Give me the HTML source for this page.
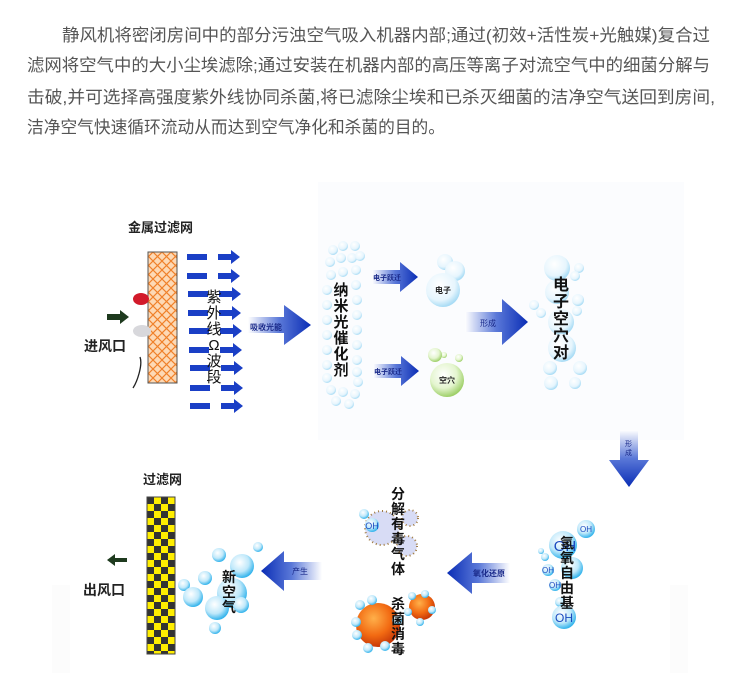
<!DOCTYPE html>
<html><head><meta charset="utf-8"><style>
html,body{margin:0;padding:0;background:#fff;width:750px;height:673px;overflow:hidden}
svg{display:block;font-family:"Liberation Sans","Noto Sans CJK SC",sans-serif}
</style></head><body>
<svg width="750" height="673" viewBox="0 0 750 673" xmlns="http://www.w3.org/2000/svg">
<defs>
<radialGradient id="bb" cx="40%" cy="35%" r="65%"><stop offset="0" stop-color="#ffffff"/><stop offset="0.6" stop-color="#bfe8fa"/><stop offset="1" stop-color="#35b4ec"/></radialGradient>
<radialGradient id="lb" cx="40%" cy="35%" r="65%"><stop offset="0" stop-color="#ffffff"/><stop offset="0.7" stop-color="#e6f5fd"/><stop offset="1" stop-color="#a9dcf5"/></radialGradient>
<radialGradient id="gb" cx="40%" cy="35%" r="65%"><stop offset="0" stop-color="#ffffff"/><stop offset="0.6" stop-color="#e4f5cf"/><stop offset="1" stop-color="#9fd06a"/></radialGradient>
<radialGradient id="ob" cx="40%" cy="35%" r="65%"><stop offset="0" stop-color="#ffb04a"/><stop offset="0.6" stop-color="#f26a12"/><stop offset="1" stop-color="#c83a08"/></radialGradient>
<linearGradient id="ar" x1="0" x2="1"><stop offset="0" stop-color="#ffffff"/><stop offset="0.5" stop-color="#5a78d8"/><stop offset="1" stop-color="#0a2db5"/></linearGradient>
<linearGradient id="al" x1="1" x2="0"><stop offset="0" stop-color="#ffffff"/><stop offset="0.5" stop-color="#5a78d8"/><stop offset="1" stop-color="#0a2db5"/></linearGradient>
<linearGradient id="ad" x1="0" y1="0" x2="0" y2="1"><stop offset="0" stop-color="#ffffff"/><stop offset="0.5" stop-color="#5a78d8"/><stop offset="1" stop-color="#0a2db5"/></linearGradient>
<pattern id="hatch" width="9" height="9" patternUnits="userSpaceOnUse"><rect width="9" height="9" fill="#fdd9b5"/><path d="M0 0L9 9M9 0L0 9" stroke="#f0812a" stroke-width="1.2"/></pattern>
<pattern id="chk" width="14" height="14" patternUnits="userSpaceOnUse"><rect width="14" height="14" fill="#ffee00"/><rect width="7" height="7" fill="#333"/><rect x="7" y="7" width="7" height="7" fill="#333"/></pattern>
</defs>

<g fill="#555" font-size="17">
<text x="62" y="41" textLength="648" lengthAdjust="spacingAndGlyphs">静风机将密闭房间中的部分污浊空气吸入机器内部;通过(初效+活性炭+光触媒)复合过</text>
<text x="27" y="71" textLength="683" lengthAdjust="spacingAndGlyphs">滤网将空气中的大小尘埃滤除;通过安装在机器内部的高压等离子对流空气中的细菌分解与</text>
<text x="27" y="103" textLength="688" lengthAdjust="spacingAndGlyphs">击破,并可选择高强度紫外线协同杀菌,将已滤除尘埃和已杀灭细菌的洁净空气送回到房间,</text>
<text x="27" y="133" textLength="418" lengthAdjust="spacingAndGlyphs">洁净空气快速循环流动从而达到空气净化和杀菌的目的。</text>
</g>

<rect x="318" y="182" width="366" height="258" fill="#fbfcfe"/>
<rect x="52" y="585" width="636" height="88" fill="#fcfcfc"/>
<rect x="70" y="585" width="600" height="88" fill="#fff"/>

<text x="128" y="232" font-size="13" font-weight="bold" fill="#222">金属过滤网</text>
<rect x="148" y="252" width="29" height="131" fill="url(#hatch)" stroke="#555" stroke-width="1"/>
<ellipse cx="141" cy="299" rx="8" ry="6" fill="#d21a2a"/>
<path d="M107 314h13v-4l9 7-9 7v-4h-13z" fill="#1e3a1e"/>
<ellipse cx="142" cy="331" rx="9" ry="6" fill="#d8d8dc"/>
<path d="M140 357c3 8-3 25-7 31" stroke="#222" fill="none" stroke-width="1.3"/>
<text x="84" y="351" font-size="14" font-weight="bold" fill="#222">进风口</text>
<g fill="#1a3fc6">
<rect x="187" y="254" width="20" height="6"/><path d="M218 254h13v-4l9 7-9 7v-4h-13z"/>
<rect x="187" y="273" width="20" height="6"/><path d="M218 273h13v-4l9 7-9 7v-4h-13z"/>
<rect x="188" y="291" width="20" height="6"/><path d="M219 291h13v-4l9 7-9 7v-4h-13z"/>
<rect x="188" y="310" width="20" height="6"/><path d="M219 310h13v-4l9 7-9 7v-4h-13z"/>
<rect x="189" y="328" width="20" height="6"/><path d="M220 328h13v-4l9 7-9 7v-4h-13z"/>
<rect x="189" y="347" width="20" height="6"/><path d="M220 347h13v-4l9 7-9 7v-4h-13z"/>
<rect x="190" y="365" width="20" height="6"/><path d="M221 365h13v-4l9 7-9 7v-4h-13z"/>
<rect x="190" y="385" width="20" height="6"/><path d="M221 385h13v-4l9 7-9 7v-4h-13z"/>
<rect x="190" y="403" width="20" height="6"/><path d="M221 403h13v-4l9 7-9 7v-4h-13z"/>
</g>
<g font-size="15" fill="#111" text-anchor="middle">
<text x="214" y="302">紫</text><text x="214" y="318">外</text><text x="214" y="334">线</text><text x="214" y="350">Ω</text><text x="214" y="366">波</text><text x="214" y="382">段</text>
</g>
<path d="M248 317h36v-12l27 20-27 20v-12h-36z" fill="url(#ar)"/>
<text x="250" y="330" font-size="8" font-weight="bold" fill="#1a2a8a">吸收光能</text>

<g fill="url(#lb)">
<circle cx="333" cy="250" r="5"/><circle cx="343" cy="246" r="5"/><circle cx="355" cy="246" r="5"/>
<circle cx="330" cy="262" r="5"/><circle cx="341" cy="258" r="5"/><circle cx="352" cy="258" r="5"/><circle cx="360" cy="256" r="5"/>
<circle cx="331" cy="275" r="5"/><circle cx="343" cy="272" r="5"/><circle cx="356" cy="270" r="5"/>
<circle cx="331" cy="390" r="5"/><circle cx="343" cy="392" r="5"/><circle cx="355" cy="394" r="5"/>
<circle cx="336" cy="401" r="5"/><circle cx="349" cy="404" r="5"/><circle cx="358" cy="382" r="5"/>
<circle cx="356" cy="285" r="5"/><circle cx="357" cy="300" r="5"/><circle cx="357" cy="315" r="5"/><circle cx="357" cy="330" r="5"/><circle cx="357" cy="345" r="5"/><circle cx="357" cy="360" r="5"/><circle cx="357" cy="372" r="5"/>
<circle cx="327" cy="290" r="5"/><circle cx="327" cy="305" r="5"/><circle cx="327" cy="320" r="5"/><circle cx="327" cy="335" r="5"/><circle cx="327" cy="350" r="5"/><circle cx="327" cy="365" r="5"/><circle cx="327" cy="378" r="5"/>
</g>
<g font-size="15" fill="#111" text-anchor="middle" font-weight="bold">
<text x="341" y="295">纳</text><text x="341" y="311">米</text><text x="341" y="327">光</text><text x="341" y="343">催</text><text x="341" y="359">化</text><text x="341" y="375">剂</text>
</g>
<path d="M372 270h28v-8l18 15-18 15v-8h-28z" fill="url(#ar)"/>
<text x="373" y="280" font-size="7" font-weight="bold" fill="#1a2a8a">电子跃迁</text>
<path d="M373 364h28v-8l18 15-18 15v-8h-28z" fill="url(#ar)"/>
<text x="374" y="374" font-size="7" font-weight="bold" fill="#1a2a8a">电子跃迁</text>
<circle cx="445" cy="262" r="8" fill="url(#lb)"/><circle cx="455" cy="271" r="10" fill="url(#lb)"/>
<circle cx="443" cy="290" r="17" fill="url(#lb)"/>
<text x="443" y="293" font-size="8" font-weight="bold" text-anchor="middle" fill="#222">电子</text>
<circle cx="444" cy="355" r="3" fill="url(#gb)"/><circle cx="435" cy="355" r="7" fill="url(#gb)"/><circle cx="459" cy="358" r="4" fill="url(#gb)"/>
<circle cx="447" cy="380" r="17" fill="url(#gb)"/>
<text x="447" y="383" font-size="8" font-weight="bold" text-anchor="middle" fill="#222">空穴</text>
<path d="M465 312h37v-13l26 23-26 23v-13h-37z" fill="url(#ar)"/>
<text x="480" y="326" font-size="8" fill="#1a2a8a">形成</text>
<g fill="url(#lb)">
<circle cx="557" cy="268" r="13"/><circle cx="579" cy="268" r="5"/><circle cx="575" cy="276" r="5"/>
<circle cx="557" cy="292" r="12"/><circle cx="578" cy="300" r="6"/><circle cx="534" cy="305" r="5"/><circle cx="541" cy="313" r="5"/><circle cx="577" cy="311" r="5"/>
<circle cx="561" cy="322" r="13"/><circle cx="562" cy="348" r="14"/><circle cx="550" cy="368" r="7"/><circle cx="580" cy="368" r="7"/><circle cx="551" cy="383" r="7"/><circle cx="575" cy="383" r="6"/>
</g>
<g font-size="16" fill="#111" text-anchor="middle" font-weight="bold">
<text x="561" y="290">电</text><text x="561" y="307">子</text><text x="561" y="324">空</text><text x="561" y="341">穴</text><text x="561" y="358">对</text>
</g>

<path d="M620 430h18v30h11l-20 27-20-27h11z" fill="url(#ad)"/>
<text x="625" y="446" font-size="7" fill="#1a2a8a">形</text><text x="625" y="455" font-size="7" fill="#1a2a8a">成</text>

<g fill="url(#bb)">
<circle cx="586" cy="529" r="9"/><circle cx="563" cy="545" r="14"/><circle cx="572" cy="568" r="11"/>
<circle cx="541" cy="551" r="3"/><circle cx="545" cy="557" r="4"/><circle cx="548" cy="570" r="6"/>
<circle cx="555" cy="585" r="6"/><circle cx="560" cy="602" r="5"/><circle cx="564" cy="617" r="12"/>
</g>
<g font-size="8" fill="#1a4ac0" text-anchor="middle">
<text x="586" y="532">OH</text><text x="548" y="573">OH</text><text x="555" y="588">OH</text>
</g>
<text x="564" y="622" font-size="12" fill="#1a4ac0" text-anchor="middle">OH</text>
<text x="565" y="551" font-size="15" fill="#1a4ac0" text-anchor="middle">OH</text>
<g font-size="14" fill="#111" text-anchor="middle" font-weight="bold">
<text x="567" y="548">氢</text><text x="567" y="563">氧</text><text x="567" y="578">自</text><text x="567" y="593">由</text><text x="567" y="608">基</text>
</g>
<path d="M510 563h-38v-11l-25 21 25 21v-11h38z" fill="url(#al)"/>
<text x="473" y="576" font-size="8" font-weight="bold" fill="#1a2a8a">氧化还原</text>

<circle cx="382" cy="528" r="17" fill="#d8dcf5" stroke="#a07a40" stroke-dasharray="1 3" stroke-width="2"/>
<circle cx="410" cy="518" r="8" fill="#d8dcf5" stroke="#a07a40" stroke-dasharray="1 3" stroke-width="2"/>
<circle cx="407" cy="546" r="10" fill="#d8dcf5" stroke="#a07a40" stroke-dasharray="1 3" stroke-width="2"/>
<circle cx="372" cy="525" r="7" fill="url(#bb)"/><circle cx="364" cy="514" r="5" fill="url(#bb)"/>
<text x="372" y="529" font-size="9" fill="#1a4ac0" text-anchor="middle">OH</text>
<g font-size="14" fill="#111" text-anchor="middle" font-weight="bold">
<text x="398" y="499">分</text><text x="398" y="514">解</text><text x="398" y="529">有</text><text x="398" y="544">毒</text><text x="398" y="559">气</text><text x="398" y="574">体</text>
</g>
<circle cx="378" cy="625" r="22" fill="url(#ob)"/><circle cx="422" cy="607" r="13" fill="url(#ob)"/>
<g fill="url(#bb)">
<circle cx="360" cy="605" r="5"/><circle cx="372" cy="600" r="5"/><circle cx="356" cy="622" r="5"/><circle cx="357" cy="635" r="5"/><circle cx="368" cy="648" r="5"/><circle cx="385" cy="646" r="5"/><circle cx="397" cy="620" r="5"/><circle cx="412" cy="596" r="4"/><circle cx="425" cy="594" r="4"/><circle cx="432" cy="610" r="4"/><circle cx="420" cy="622" r="4"/><circle cx="408" cy="612" r="4"/>
</g>
<g font-size="14" fill="#111" text-anchor="middle" font-weight="bold">
<text x="398" y="609">杀</text><text x="398" y="624">菌</text><text x="398" y="639">消</text><text x="398" y="654">毒</text>
</g>

<path d="M322 562h-38v-11l-23 20 23 20v-11h38z" fill="url(#al)"/>
<text x="292" y="574" font-size="8" fill="#1a2a8a">产生</text>

<g fill="url(#bb)">
<circle cx="258" cy="547" r="5"/><circle cx="219" cy="555" r="7"/><circle cx="242" cy="566" r="12"/><circle cx="205" cy="578" r="7"/>
<circle cx="232" cy="593" r="15"/><circle cx="184" cy="585" r="6"/><circle cx="193" cy="597" r="10"/><circle cx="217" cy="608" r="12"/><circle cx="241" cy="605" r="8"/><circle cx="215" cy="628" r="6"/>
</g>
<g font-size="14" fill="#111" text-anchor="middle" font-weight="bold">
<text x="229" y="582">新</text><text x="229" y="597">空</text><text x="229" y="612">气</text>
</g>

<text x="143" y="484" font-size="13" font-weight="bold" fill="#222">过滤网</text>
<rect x="147" y="497" width="28" height="157" fill="url(#chk)" stroke="#444"/>
<path d="M127 558h-12v-4l-8 6 8 6v-4h12z" fill="#1e3a1e"/>
<text x="83" y="595" font-size="14" font-weight="bold" fill="#222">出风口</text>
</svg>
</body></html>
